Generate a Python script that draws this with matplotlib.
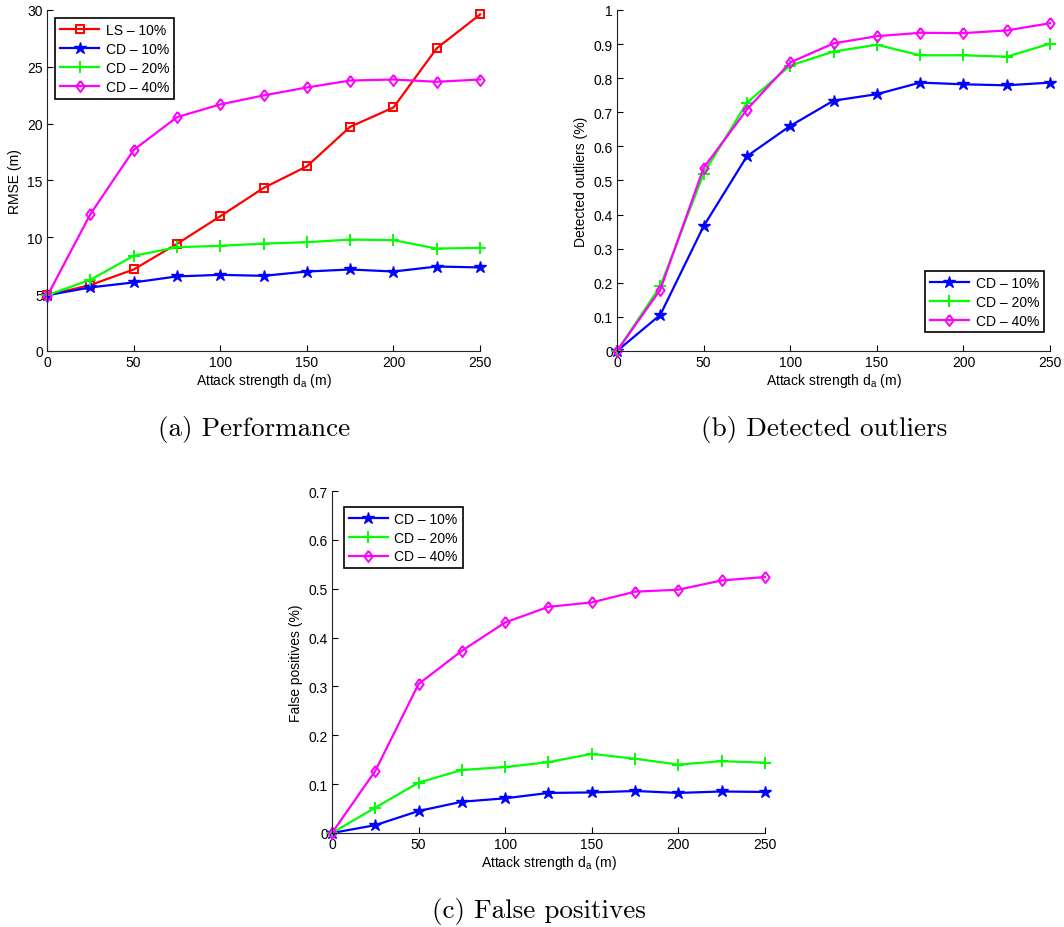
import matplotlib
matplotlib.use("Agg")
import matplotlib.pyplot as plt

# ---------------- data ----------------
attack = [0, 25, 50, 75, 100, 125, 150, 175, 200, 225, 250]

rmse_ls10 = [4.9, 5.8, 7.17, 9.42, 11.85, 14.34, 16.24, 19.72, 21.42, 26.63, 29.6]
rmse_cd10 = [4.9, 5.59, 6.03, 6.56, 6.70, 6.61, 6.99, 7.17, 6.99, 7.43, 7.35]
rmse_cd20 = [4.9, 6.26, 8.37, 9.13, 9.25, 9.45, 9.57, 9.80, 9.75, 9.01, 9.07]
rmse_cd40 = [4.8, 12.03, 17.68, 20.57, 21.69, 22.48, 23.18, 23.79, 23.88, 23.68, 23.88]

det_cd10 = [0.0, 0.106, 0.366, 0.571, 0.660, 0.734, 0.753, 0.787, 0.782, 0.779, 0.787]
det_cd20 = [0.0, 0.19, 0.52, 0.728, 0.837, 0.878, 0.898, 0.867, 0.867, 0.863, 0.901]
det_cd40 = [0.0, 0.18, 0.537, 0.708, 0.846, 0.902, 0.923, 0.933, 0.932, 0.940, 0.961]

fp_cd10 = [0.0, 0.016, 0.045, 0.064, 0.071, 0.082, 0.083, 0.086, 0.082, 0.085, 0.084]
fp_cd20 = [0.0, 0.052, 0.103, 0.129, 0.135, 0.145, 0.162, 0.152, 0.140, 0.147, 0.144]
fp_cd40 = [0.0, 0.127, 0.305, 0.373, 0.431, 0.463, 0.472, 0.494, 0.498, 0.517, 0.524]

labels_a = ["LS \u2013 10%", "CD \u2013 10%", "CD \u2013 20%", "CD \u2013 40%"]
labels_cd = ["CD \u2013 10%", "CD \u2013 20%", "CD \u2013 40%"]
xticks = [0, 50, 100, 150, 200, 250]
captions = ["(a) Performance", "(b) Detected outliers", "(c) False positives"]

# ---------------- style ----------------
plt.rcParams['font.family'] = ['Liberation Sans', 'DejaVu Sans']
plt.rcParams['mathtext.default'] = 'regular'
plt.rcParams['font.size'] = 10

RED, BLUE, GREEN, MAG = '#ff0000', '#0000ff', '#00ff00', '#ff00ff'
LW = 1.6
DIAMOND = [(0, 1), (0.75, 0), (0, -1), (-0.75, 0), (0, 1)]

fig = plt.figure(figsize=(10.64, 9.28), dpi=100)

ax_a = fig.add_axes([0.0442, 0.6207, 0.407, 0.3675])
ax_b = fig.add_axes([0.5799, 0.6207, 0.407, 0.3675])
ax_c = fig.add_axes([0.3120, 0.1013, 0.407, 0.3685])


def style(ax, ymax, yticks, ylabel):
    ax.set_xlim(0, 250)
    ax.set_ylim(0, ymax)
    ax.set_xticks(xticks)
    ax.set_yticks(yticks)
    ax.set_yticklabels([('%g' % t) for t in yticks])
    for s in ('top', 'right'):
        ax.spines[s].set_visible(False)
    for s in ('left', 'bottom'):
        ax.spines[s].set_linewidth(0.8)
        ax.spines[s].set_color('#222222')
    ax.tick_params(direction='in', length=4, width=0.8, labelsize=10, pad=3)
    ax.set_xlabel('Attack strength d$_a$ (m)', fontsize=10, labelpad=1)
    ax.set_ylabel(ylabel, fontsize=10, labelpad=4)


def cd_lines(ax, y10, y20, y40):
    ax.plot(attack, y10, color=BLUE, lw=LW, marker='*', ms=9, mfc=BLUE, mec=BLUE, label=labels_cd[0], clip_on=False)
    ax.plot(attack, y20, color=GREEN, lw=LW, marker='+', ms=8, mew=1.4, mec=GREEN, label=labels_cd[1], clip_on=False)
    ax.plot(attack, y40, color=MAG, lw=LW, marker=DIAMOND, ms=8, mfc='none', mec=MAG, mew=1.4, label=labels_cd[2], clip_on=False)


def legend(ax, loc, anchor=None):
    kw = {}
    if anchor is not None:
        kw['bbox_to_anchor'] = anchor
    leg = ax.legend(loc=loc, fontsize=10, fancybox=False, framealpha=1, edgecolor='black',
                    borderpad=0.35, labelspacing=0.35, handlelength=2.8, handletextpad=0.5,
                    borderaxespad=0.6, **kw)
    leg.get_frame().set_linewidth(1.2)


# (a)
ax_a.plot(attack, rmse_ls10, color=RED, lw=LW, marker='s', ms=6, mfc='none', mec=RED, mew=1.4, label=labels_a[0], clip_on=False)
ax_a.plot(attack, rmse_cd10, color=BLUE, lw=LW, marker='*', ms=9, mfc=BLUE, mec=BLUE, label=labels_a[1], clip_on=False)
ax_a.plot(attack, rmse_cd20, color=GREEN, lw=LW, marker='+', ms=8, mew=1.4, mec=GREEN, label=labels_a[2], clip_on=False)
ax_a.plot(attack, rmse_cd40, color=MAG, lw=LW, marker=DIAMOND, ms=8, mfc='none', mec=MAG, mew=1.4, label=labels_a[3], clip_on=False)
style(ax_a, 30, [0, 5, 10, 15, 20, 25, 30], 'RMSE (m)')
legend(ax_a, 'upper left')

# (b)
cd_lines(ax_b, det_cd10, det_cd20, det_cd40)
style(ax_b, 1, [0, 0.1, 0.2, 0.3, 0.4, 0.5, 0.6, 0.7, 0.8, 0.9, 1], 'Detected outliers (%)')
legend(ax_b, 'lower right', anchor=(1.005, 0.03))

# (c)
cd_lines(ax_c, fp_cd10, fp_cd20, fp_cd40)
style(ax_c, 0.7, [0, 0.1, 0.2, 0.3, 0.4, 0.5, 0.6, 0.7], 'False positives (%)')
legend(ax_c, 'upper left', anchor=(0.008, 0.978))

# captions
cap_kw = dict(fontsize=19.5, family='cmr10', ha='center', va='center')
fig.text(254 / 1064, 1 - 430 / 928, captions[0], **cap_kw)
fig.text(824 / 1064, 1 - 430 / 928, captions[1], **cap_kw)
fig.text(539 / 1064, 1 - 912 / 928, captions[2], **cap_kw)

fig.savefig('out.png', dpi=100)
